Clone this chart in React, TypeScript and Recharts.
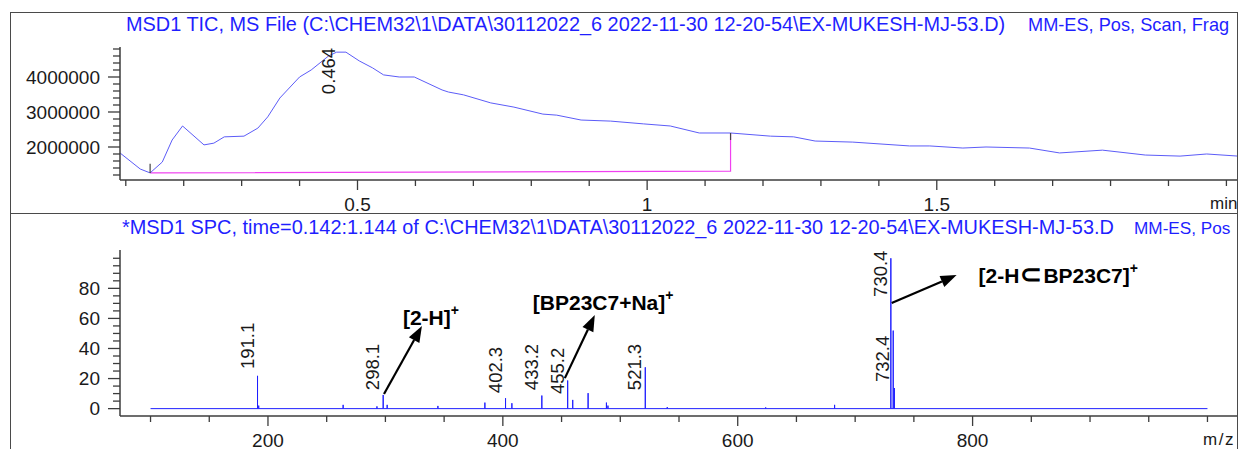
import React from "react";
import { LineChart, Line, XAxis, YAxis, ReferenceLine, ReferenceDot } from "recharts";

const FONT = "Arial, 'Liberation Sans', sans-serif";
const INK = "#1a1a1a";
const AXIS = "#3c3c3c";

// --- TIC trace (retention time in min, total ion counts)
const ticTimes = [
  0.09, 0.125, 0.142, 0.163, 0.18, 0.198, 0.235, 0.252, 0.27, 0.304, 0.328, 0.345,
  0.366, 0.4, 0.42, 0.45, 0.464, 0.48, 0.503, 0.526, 0.545, 0.572, 0.598, 0.646,
  0.657, 0.683, 0.73, 0.77, 0.82, 0.844, 0.886, 0.937, 0.994, 1.04, 1.09, 1.144,
  1.213, 1.253, 1.29, 1.355, 1.453, 1.488, 1.545, 1.585, 1.66, 1.712, 1.786, 1.86,
  1.92, 1.966, 2.02,
];
const ticCounts = [
  1830000, 1370000, 1260000, 1570000, 2200000, 2600000, 2060000, 2110000, 2290000,
  2310000, 2540000, 2860000, 3400000, 4000000, 4200000, 4600000, 4710000, 4710000,
  4460000, 4260000, 4060000, 4000000, 4000000, 3630000, 3570000, 3490000, 3260000,
  3140000, 2940000, 2910000, 2770000, 2740000, 2660000, 2600000, 2400000, 2400000,
  2310000, 2290000, 2170000, 2140000, 2030000, 2030000, 1970000, 2000000, 1970000,
  1830000, 1910000, 1770000, 1740000, 1800000, 1740000,
];

// integration baseline: start -> end, then drop line up to the trace
const baseTimes = [0.142, 1.144, 1.144];
const baseCounts = [1260000, 1310000, 2400000];

const apexTime = 0.464;
const apexLabelAt = 3510000;

// --- averaged spectrum (m/z, relative abundance %)
const scanRange = [100, 1000];
const peakMz = [
  191.1, 192.1, 264.0, 292.8, 298.1, 301.5, 344.7, 384.7, 402.3, 407.7, 433.2, 455.2,
  459.5, 472.6, 488.2, 489.5, 521.3, 540.0, 623.8, 682.5, 730.4, 732.4, 733.4,
];
const peakAbund = [
  21.8, 2.0, 2.5, 1.5, 9.1, 2.5, 1.8, 4.0, 6.9, 3.6, 8.7, 18.7,
  5.8, 10.3, 4.0, 2.0, 27.5, 1.0, 0.8, 2.5, 100, 51.9, 13.7,
];
const labelledMz = [191.1, 298.1, 402.3, 433.2, 455.2, 521.3, 730.4, 732.4];
// height (in %) where each rotated m/z label starts
const labelStart = [26.3, 12.3, 10.3, 12.3, 9.7, 12.3, 74.3, 17.7];

// --- ticks
const timeMajor = [0.5, 1, 1.5];
const timeTicks = Array.from({ length: 20 }, (_, i) => Number(((i + 1) / 10).toFixed(1)));
const countMajor = [2000000, 3000000, 4000000];
const countTicks = Array.from({ length: 19 }, (_, i) => 1200000 + i * 200000);
const mzMajor = [200, 400, 600, 800];
const mzTicks = Array.from({ length: 19 }, (_, i) => 100 + i * 50);
const abundMajor = [0, 20, 40, 60, 80];
const abundTicks = Array.from({ length: 21 }, (_, i) => i * 5);

const ticData = ticTimes.map((t, i) => ({ t, v: ticCounts[i] }));
const baseData = baseTimes.map((t, i) => ({ t, v: baseCounts[i] }));

const stickData: { mz: number; rel: number }[] = [{ mz: scanRange[0], rel: 0 }];
peakMz.forEach((m, i) => {
  stickData.push({ mz: m, rel: 0 }, { mz: m, rel: peakAbund[i] }, { mz: m, rel: 0 });
});
stickData.push({ mz: scanRange[1], rel: 0 });

const makeXTick = (major: number[]) => (p: any) => {
  const { x, y, payload } = p;
  const isMajor = major.includes(payload.value);
  return (
    <g>
      <line x1={x} x2={x} y1={y} y2={y + (isMajor ? 10 : 6)} stroke={AXIS} strokeWidth={1.3} />
      {isMajor && (
        <text x={x} y={y + 30.5} textAnchor="middle" fontSize={19} fill={INK} fontFamily={FONT}>
          {payload.value}
        </text>
      )}
    </g>
  );
};

const makeYTick = (major: number[]) => (p: any) => {
  const { x, y, payload } = p;
  const isMajor = major.includes(payload.value);
  return (
    <g>
      <line x1={x - (isMajor ? 12 : 7)} x2={x} y1={y} y2={y} stroke={AXIS} strokeWidth={1.3} />
      {isMajor && (
        <text x={x - 20} y={y + 6.8} textAnchor="end" fontSize={19} fill={INK} fontFamily={FONT}>
          {payload.value}
        </text>
      )}
    </g>
  );
};

const unitLabel = (text: string, dx: number, spacing = 0) => (p: any) => {
  const vb = p.viewBox;
  return (
    <text
      x={vb.x + vb.width - dx}
      y={vb.y + 28.5}
      fontSize={17}
      fill={INK}
      fontFamily={FONT}
      letterSpacing={spacing}
    >
      {text}
    </text>
  );
};

const rotatedLabel = (text: string, dx: number) => (p: any) => (
  <text
    transform={`translate(${p.cx + dx},${p.cy}) rotate(-90)`}
    fontSize={18.5}
    fill={INK}
    fontFamily={FONT}
  >
    {text}
  </text>
);

const arrow = (p: any) => {
  const { x1, y1, x2, y2 } = p;
  const a = Math.atan2(y2 - y1, x2 - x1);
  const len = 16;
  const half = 6;
  const bx = x2 - len * Math.cos(a);
  const by = y2 - len * Math.sin(a);
  const pts = [
    [x2, y2],
    [bx + half * Math.sin(a), by - half * Math.cos(a)],
    [bx - half * Math.sin(a), by + half * Math.cos(a)],
  ]
    .map((q) => q.join(","))
    .join(" ");
  return (
    <g>
      <line x1={x1} y1={y1} x2={bx} y2={by} stroke="#000" strokeWidth={2.2} />
      <polygon points={pts} fill="#000" />
    </g>
  );
};

// bold ion formula with a superscript charge; the "⊂" is set a little larger
const ionTag = (text: string) => (p: any) => {
  const parts = text.split("\u2282");
  return (
    <text x={p.cx} y={p.cy + 7.5} fontSize={21} fontWeight="bold" fill="#000" fontFamily={FONT}>
      {parts[0]}
      {parts.length > 1 && (
        <>
          <tspan fontSize={26} dx={1}>
            {"\u2282"}
          </tspan>
          <tspan dx={1}>{parts[1]}</tspan>
        </>
      )}
      <tspan dy={-10} fontSize={14}>
        +
      </tspan>
    </text>
  );
};

const titleStyle: React.CSSProperties = {
  position: "absolute",
  whiteSpace: "pre",
  color: "#1f1fff",
  fontFamily: FONT,
  fontSize: 19.9,
  lineHeight: "22px",
};

export default function App() {
  return (
    <div style={{ position: "absolute", left: 0, top: 0, width: 1242, height: 449, background: "#fff", overflow: "hidden" }}>
      {/* TIC panel */}
      <div style={{ position: "absolute", left: 0, top: 0, width: 1238, height: 214, overflow: "hidden" }}>
        <div style={{ ...titleStyle, left: 126, top: 13 }}>
          {"MSD1 TIC, MS File (C:\\CHEM32\\1\\DATA\\30112022_6 2022-11-30 12-20-54\\EX-MUKESH-MJ-53.D)"}
        </div>
        <div style={{ ...titleStyle, left: 1028, top: 14, fontSize: 18.2 }}>{"MM-ES, Pos, Scan, Frag"}</div>
        <LineChart width={1242} height={214} margin={{ top: 47, right: 4, left: 0, bottom: 0 }}>
          <XAxis
            dataKey="t"
            type="number"
            domain={[0.09, 2.02]}
            ticks={timeTicks}
            interval={0}
            allowDataOverflow
            height={34}
            tickSize={0}
            tickMargin={0}
            tickLine={false}
            axisLine={{ stroke: AXIS, strokeWidth: 1.5 }}
            tick={makeXTick(timeMajor)}
            label={unitLabel("min", 28)}
          />
          <YAxis
            dataKey="v"
            type="number"
            domain={[1057000, 4857000]}
            ticks={countTicks}
            interval={0}
            allowDataOverflow
            width={120}
            tickSize={0}
            tickMargin={0}
            tickLine={false}
            axisLine={{ stroke: AXIS, strokeWidth: 1.5 }}
            tick={makeYTick(countMajor)}
          />
          <Line data={baseData} dataKey="v" stroke="#f040f0" strokeWidth={1.2} dot={false} activeDot={false} isAnimationActive={false} />
          <Line data={ticData} dataKey="v" stroke="#5c5cf8" strokeWidth={1} dot={false} activeDot={false} isAnimationActive={false} />
          <ReferenceLine
            segment={[{ x: baseTimes[0], y: baseCounts[0] }, { x: baseTimes[0], y: 1520000 }]}
            stroke="#444"
            strokeWidth={1.2}
          />
          <ReferenceLine
            segment={[{ x: baseTimes[1], y: baseCounts[2] }, { x: baseTimes[1], y: 2200000 }]}
            stroke="#444"
            strokeWidth={1.2}
          />
          <ReferenceDot x={apexTime} y={apexLabelAt} r={0} shape={rotatedLabel(String(apexTime), -2)} />
        </LineChart>
      </div>

      {/* spectrum panel */}
      <div style={{ position: "absolute", left: 0, top: 214, width: 1238, height: 235, overflow: "hidden" }}>
        <div style={{ ...titleStyle, left: 122, top: 2 }}>
          {"*MSD1 SPC, time=0.142:1.144 of C:\\CHEM32\\1\\DATA\\30112022_6 2022-11-30 12-20-54\\EX-MUKESH-MJ-53.D"}
        </div>
        <div style={{ ...titleStyle, left: 1134, top: 3, fontSize: 17.2 }}>{"MM-ES, Pos"}</div>
        <LineChart width={1242} height={235} margin={{ top: 36, right: 4, left: 0, bottom: 0 }}>
          <XAxis
            dataKey="mz"
            type="number"
            domain={[74, 1026]}
            ticks={mzTicks}
            interval={0}
            allowDataOverflow
            height={33}
            tickSize={0}
            tickMargin={0}
            tickLine={false}
            axisLine={{ stroke: AXIS, strokeWidth: 1.5 }}
            tick={makeXTick(mzMajor)}
            label={unitLabel("m/z", 35, 1.5)}
          />
          <YAxis
            dataKey="rel"
            type="number"
            domain={[-4.9, 105.5]}
            ticks={abundTicks}
            interval={0}
            allowDataOverflow
            width={120}
            tickSize={0}
            tickMargin={0}
            tickLine={false}
            axisLine={{ stroke: AXIS, strokeWidth: 1.5 }}
            tick={makeYTick(abundMajor)}
          />
          <Line data={stickData} dataKey="rel" stroke="#1f1fff" strokeWidth={1} dot={false} activeDot={false} isAnimationActive={false} />
          {labelledMz.map((m, i) => (
            <ReferenceDot key={m} x={m} y={labelStart[i]} r={0} shape={rotatedLabel(m.toFixed(1), -4)} />
          ))}
          <ReferenceLine segment={[{ x: 298.8, y: 9.7 }, { x: 331.1, y: 54.9 }]} shape={arrow} />
          <ReferenceLine segment={[{ x: 452.8, y: 20.3 }, { x: 478.3, y: 62.2 }]} shape={arrow} />
          <ReferenceLine segment={[{ x: 731.1, y: 70.2 }, { x: 786.4, y: 88.8 }]} shape={arrow} />
          <ReferenceDot x={314.9} y={60.9} r={0} shape={ionTag("[2-H]")} />
          <ReferenceDot x={425.5} y={70.9} r={0} shape={ionTag("[BP23C7+Na]")} />
          <ReferenceDot x={805.1} y={88.8} r={0} shape={ionTag("[2-H\u2282BP23C7]")} />
        </LineChart>
      </div>

      {/* frame */}
      <div style={{ position: "absolute", left: 10, top: 12, width: 1228, height: 500, border: "1px solid #4a4a4a", boxSizing: "border-box", pointerEvents: "none" }} />
      <div style={{ position: "absolute", left: 10, top: 213, width: 1228, height: 1.3, background: "#4a4a4a" }} />
    </div>
  );
}
